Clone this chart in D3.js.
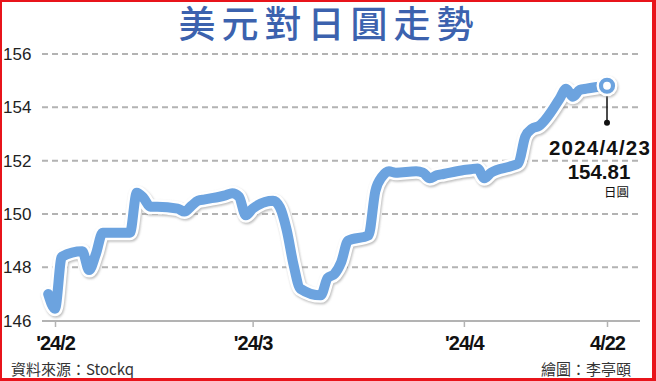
<!DOCTYPE html>
<html>
<head>
<meta charset="utf-8">
<script src="https://cdn.jsdelivr.net/npm/d3@7"></script>
<style>
html,body{margin:0;padding:0;background:#fff;}
svg{display:block;}
</style>
</head>
<body>
<svg id="chart" width="656" height="381"></svg>
<script>
const dates = ["2024-01-31","2024-02-01","2024-02-02","2024-02-05","2024-02-06","2024-02-07","2024-02-08","2024-02-09",
"2024-02-12","2024-02-13","2024-02-14","2024-02-15","2024-02-16","2024-02-19","2024-02-20","2024-02-21","2024-02-22","2024-02-23",
"2024-02-26","2024-02-27","2024-02-28","2024-02-29","2024-03-01","2024-03-04","2024-03-05","2024-03-06","2024-03-07","2024-03-08",
"2024-03-11","2024-03-12","2024-03-13","2024-03-14","2024-03-15","2024-03-18","2024-03-19","2024-03-20","2024-03-21","2024-03-22",
"2024-03-25","2024-03-26","2024-03-27","2024-03-28","2024-03-29","2024-04-01","2024-04-02","2024-04-03","2024-04-04","2024-04-05",
"2024-04-08","2024-04-09","2024-04-10","2024-04-11","2024-04-12","2024-04-15","2024-04-16","2024-04-17","2024-04-18","2024-04-19",
"2024-04-22"];
const values = [147.0,146.45,148.4,148.6,147.9,148.5,149.3,149.3,
149.3,150.8,150.6,150.27,150.27,150.2,150.09,150.3,150.5,150.55,
150.7,150.78,150.65,149.95,150.2,150.5,150.25,149.4,148.1,147.2,
146.95,147.6,147.75,148.2,149.0,149.2,150.85,151.4,151.6,151.55,
151.6,151.55,151.34,151.45,151.5,151.65,151.68,151.71,151.34,151.55,
151.8,151.9,152.9,153.2,153.3,154.3,154.7,154.4,154.65,154.7,
154.81];
const yTicks = [146,148,150,152,154,156];
const xTickDates = ["2024-02-01","2024-03-01","2024-04-01","2024-04-22"];
const xTickLabels = ["'24/2","'24/3","'24/4","4/22"];
const titleText = "美元對日圓走勢";
const sourceText = "資料來源：Stockq";
const creditText = "繪圖：李亭頤";
const calloutDate = "2024/4/23";
const calloutValue = "154.81";
const calloutUnit = "日圓";

const svg = d3.select("#chart");
const parse = d3.utcParse("%Y-%m-%d");
const data = dates.map((d,i)=>({date:parse(d), value:values[i]}));

const x = d3.scaleUtc().domain([parse("2024-02-01"), parse("2024-04-22")]).range([55, 607]);
const y = d3.scaleLinear().domain([146,156]).range([320.7, 54]);

const defs = svg.append("defs");
const f = defs.append("filter").attr("id","sh").attr("x","-10%").attr("y","-10%").attr("width","120%").attr("height","120%");
f.append("feGaussianBlur").attr("stdDeviation",1.2);

svg.append("rect").attr("x",0).attr("y",0).attr("width",656).attr("height",381).attr("fill","#fff");

// title
svg.append("text").attr("x",329).attr("y",38).attr("text-anchor","middle")
  .attr("font-family","'Noto Sans CJK TC','Noto Sans CJK SC',sans-serif").attr("font-weight",500)
  .attr("font-size",37).attr("letter-spacing",6).attr("fill","#3c62ae").text(titleText);

// grid
svg.append("g").selectAll("line").data(yTicks.filter(t=>t>146)).join("line")
  .attr("x1",42).attr("x2",640).attr("y1",d=>y(d)).attr("y2",d=>y(d))
  .attr("stroke","#b3b3b3").attr("stroke-width",2).attr("stroke-dasharray","6,4");

// y labels
svg.append("g").selectAll("text").data(yTicks).join("text")
  .attr("x",3).attr("y",d=>y(d)+6).attr("font-family","'Liberation Sans',Arial,sans-serif")
  .attr("font-size",17).attr("fill","#222").text(d=>d);

// x axis
const xAxis = d3.axisBottom(x).tickValues(xTickDates.map(parse)).tickFormat((d,i)=>xTickLabels[i]).tickSize(6).tickSizeOuter(0);
const gx = svg.append("g").attr("transform","translate(0,321)").call(xAxis);
gx.select(".domain").remove();
gx.selectAll(".tick line").attr("stroke","#b3b3b3").attr("stroke-width",1.5);
gx.selectAll(".tick text").attr("y",29).attr("dy",0).attr("font-family","'Liberation Sans',Arial,sans-serif")
  .attr("font-weight",700).attr("font-size",20).attr("letter-spacing",-1).attr("fill","#111");
svg.append("line").attr("x1",42).attr("x2",640).attr("y1",321).attr("y2",321).attr("stroke","#b3b3b3").attr("stroke-width",2);

// line
const line = d3.line().x(d=>x(d.date)).y(d=>y(d.value)).curve(d3.curveMonotoneX);
svg.append("path").datum(data).attr("d",line).attr("fill","none").attr("stroke","#888").attr("stroke-opacity",0.55)
  .attr("stroke-width",15).attr("stroke-linejoin","round").attr("stroke-linecap","round")
  .attr("transform","translate(1,1.5)").attr("filter","url(#sh)");
svg.append("path").datum(data).attr("d",line).attr("fill","none").attr("stroke","#fff")
  .attr("stroke-width",15).attr("stroke-linejoin","round").attr("stroke-linecap","round");
svg.append("path").datum(data).attr("d",line).attr("fill","none").attr("stroke","#6ca3df")
  .attr("stroke-width",10).attr("stroke-linejoin","round").attr("stroke-linecap","round");

// end marker
const last = data[data.length-1];
const ex = x(last.date), ey = y(last.value);
svg.append("line").attr("x1",ex).attr("x2",ex).attr("y1",ey+8).attr("y2",ey+37).attr("stroke","#111").attr("stroke-width",1.5);
svg.append("circle").attr("cx",ex).attr("cy",ey+37).attr("r",3).attr("fill","#111");
svg.append("circle").attr("cx",ex+1).attr("cy",ey+1.5).attr("r",10.5).attr("fill","#888").attr("opacity",0.5).attr("filter","url(#sh)");
svg.append("circle").attr("cx",ex).attr("cy",ey).attr("r",10.5).attr("fill","#fff");
svg.append("circle").attr("cx",ex).attr("cy",ey).attr("r",6).attr("fill","#fff").attr("stroke","#6ca3df").attr("stroke-width",4.2);

// callout text
svg.append("text").attr("x",600).attr("y",155).attr("text-anchor","middle")
  .attr("font-family","'Liberation Sans',Arial,sans-serif").attr("font-weight",700).attr("font-size",20.5)
  .attr("letter-spacing",1.2).attr("fill","#111").text(calloutDate);
svg.append("text").attr("x",599).attr("y",179).attr("text-anchor","middle")
  .attr("font-family","'Liberation Sans',Arial,sans-serif").attr("font-weight",700).attr("font-size",20.5)
  .attr("fill","#111").text(calloutValue);
svg.append("text").attr("x",629).attr("y",197).attr("text-anchor","end")
  .attr("font-family","'Noto Sans CJK TC',sans-serif").attr("font-size",12.5).attr("fill","#111").text(calloutUnit);

// footer
svg.append("text").attr("x",11).attr("y",375).attr("font-family","'Noto Sans CJK TC',sans-serif")
  .attr("font-size",15).attr("fill","#333").text(sourceText);
svg.append("text").attr("x",631).attr("y",375).attr("text-anchor","end").attr("font-family","'Noto Sans CJK TC',sans-serif")
  .attr("font-size",15).attr("fill","#333").text(creditText);

// red frame
const fr = svg.append("g").attr("fill","#e8141b");
fr.append("rect").attr("x",0).attr("y",0).attr("width",656).attr("height",2);
fr.append("rect").attr("x",0).attr("y",0).attr("width",2).attr("height",381);
fr.append("rect").attr("x",652).attr("y",0).attr("width",4).attr("height",381);
fr.append("rect").attr("x",0).attr("y",378).attr("width",656).attr("height",3);
</script>
</body>
</html>
